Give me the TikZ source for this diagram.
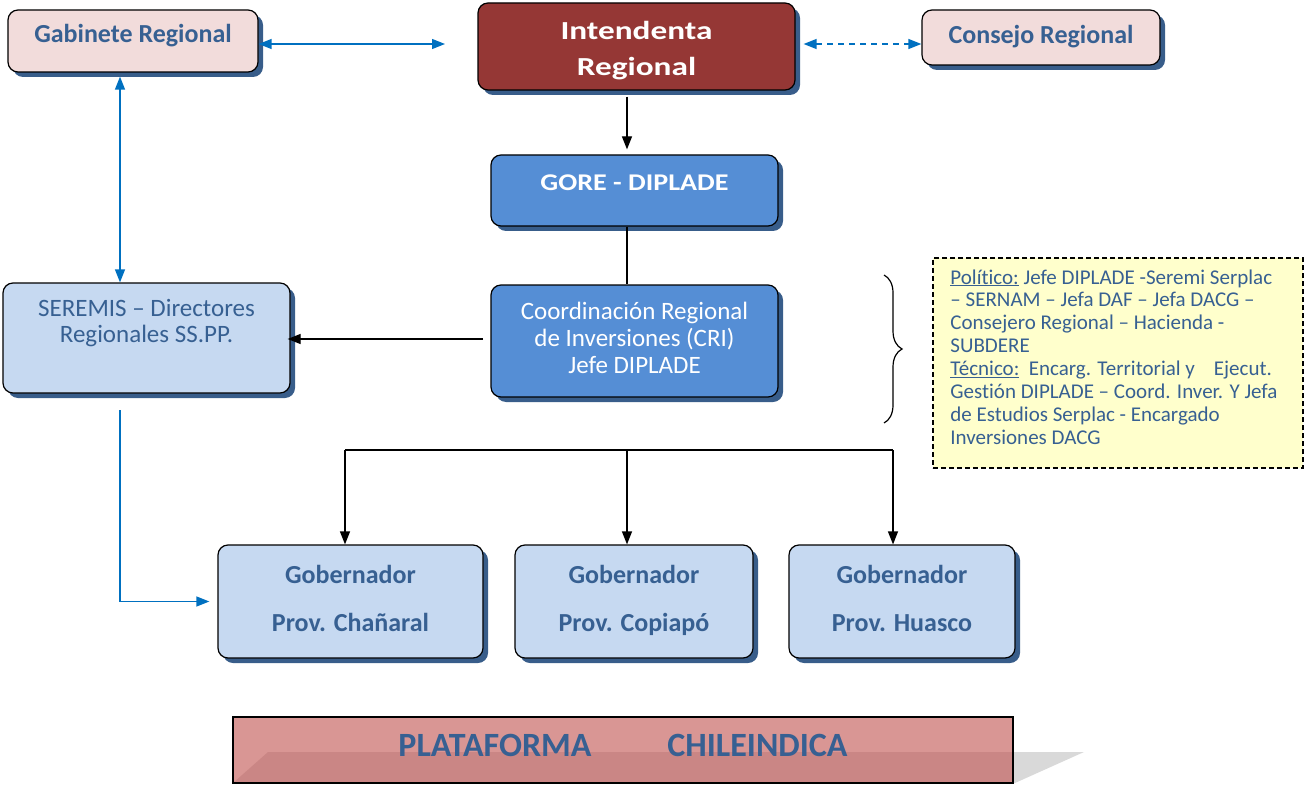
\documentclass[tikz,border=0pt]{standalone}
\usepackage{fontspec}
\setmainfont{Carlito}[Ligatures=NoCommon]
\usetikzlibrary{shadows,arrows.meta,decorations.pathreplacing}
\definecolor{pinkfill}{HTML}{F2DCDB}
\definecolor{darkred}{HTML}{953735}
\definecolor{midblue}{HTML}{558ED5}
\definecolor{lightblue}{HTML}{C6D9F1}
\definecolor{txtblue}{HTML}{376092}
\definecolor{shadowblue}{HTML}{385D8A}
\definecolor{arrowblue}{HTML}{0070C0}
\definecolor{yellowfill}{HTML}{FFFFCC}
\definecolor{platred}{HTML}{C0504D}
\definecolor{platgray}{HTML}{D9D9D9}
\tikzset{
  box/.style={draw=black, line width=1.2pt, rounded corners=10pt, inner sep=0pt,
    drop shadow={shadow xshift=5pt, shadow yshift=-5pt, fill=shadowblue, opacity=1}},
  bluearrow/.style={draw=arrowblue, line width=1.3pt, -{Triangle[length=13pt,width=10pt]}},
  bluedouble/.style={draw=arrowblue, line width=1.3pt, {Triangle[length=13pt,width=10pt]}-{Triangle[length=13pt,width=10pt]}},
  blackarrow/.style={draw=black, line width=1.2pt, -{Triangle[length=13pt,width=10pt]}},
  plainline/.style={draw=black, line width=1.2pt},
  govbox/.style={box, fill=lightblue, minimum height=113pt},
  govtext/.style={yshift=4pt, font=\fontsize{26}{48}\selectfont\bfseries, text=txtblue, align=center},
}
\begin{document}
\begin{tikzpicture}[x=1pt,y=-1pt]
\useasboundingbox (0,0) rectangle (1305,786);
% top row
\node[box, fill=pinkfill, minimum width=250pt, minimum height=62pt, font=\fontsize{26}{29}\selectfont\bfseries, text=txtblue,
  text height=18pt, text depth=14pt]
  (gab) at (133,41) {Gabinete Regional};
\node[box, fill=darkred, minimum width=317pt, minimum height=87pt,
  label={[yshift=-4pt, font=\fontsize{26}{36}\selectfont\bfseries, text=white, align=center]center:\scalebox{1.28}[1]{Intendenta}\\\scalebox{1.28}[1]{Regional}}]
  (int) at (636.5,46.5) {};
\node[box, fill=pinkfill, minimum width=238pt, minimum height=55pt, font=\fontsize{26}{29}\selectfont\bfseries, text=txtblue,
  text height=18pt, text depth=6pt]
  (con) at (1041,37.5) {Consejo Regional};
% GORE
\node[box, fill=midblue, minimum width=287pt, minimum height=71pt, font=\fontsize{24}{27}\selectfont\bfseries, text=white, text height=10pt, text depth=10pt]
  (gore) at (634.5,190.5) {\scalebox{1.17}[1]{GORE - DIPLADE}};
% CRI
\node[box, fill=midblue, minimum width=287pt, minimum height=112pt,
  label={[yshift=3pt, font=\fontsize{25}{27}\selectfont, text=white, align=center]center:Coordinación Regional\\de Inversiones (CRI)\\Jefe DIPLADE}]
  (cri) at (634.5,341) {};
% SEREMIS
\node[box, fill=lightblue, minimum width=287pt, minimum height=110pt, font=\fontsize{25}{26.5}\selectfont, text=txtblue, align=center]
  (ser) at (146.5,338) {SEREMIS -- Directores\\Regionales SS.PP.\\\strut};
% Governors
\node[govbox, minimum width=265pt, label={[govtext]center:Gobernador\strut\\Prov. Chañaral\strut}] (g1) at (350.5,601.5) {};
\node[govbox, minimum width=238pt, label={[govtext]center:Gobernador\strut\\Prov. Copiapó\strut}] (g2) at (634,601.5) {};
\node[govbox, minimum width=226pt, label={[govtext]center:Gobernador\strut\\Prov. Huasco\strut}] (g3) at (902,601.5) {};
% Yellow note
\node[draw=black, dash pattern=on 5pt off 3pt, line width=1.3pt, fill=yellowfill, minimum width=370pt, minimum height=210pt, inner sep=0pt,
  label={[yshift=6pt, xshift=-4pt, align=left, inner sep=0pt, font=\fontsize{21}{22.9}\selectfont, text=txtblue]center:\underline{Político:} Jefe DIPLADE -Seremi Serplac\\
-- SERNAM -- Jefa DAF -- Jefa DACG --\\
Consejero Regional -- Hacienda -\\
SUBDERE\\
\underline{Técnico:}\ \ Encarg. Territorial y\ \ \ \ Ejecut.\\
Gestión DIPLADE -- Coord. Inver. Y Jefa\\
de Estudios Serplac - Encargado\\
Inversiones DACG}]
  (note) at (1118,363) {};
% brace
\coordinate (brA) at (884,275);
\coordinate (brB) at (884,423);
\draw[line width=1.2pt, decorate, decoration={brace, amplitude=18pt}] (brA) -- (brB);
% Plataforma
\coordinate (pA) at (233,783);
\coordinate (pB) at (268,752);
\coordinate (pC) at (1084,752);
\coordinate (pD) at (1015,783);
\fill[platgray] (pA) -- (pB) -- (pC) -- (pD) -- cycle;
\node[draw=black, line width=2.2pt, fill=platred, fill opacity=0.6, text opacity=1, minimum width=780pt, minimum height=66pt,
  font=\fontsize{34}{36}\selectfont\bfseries, text=txtblue, inner sep=0pt, text height=22pt, text depth=10pt]
  (plat) at (623,750) {PLATAFORMA\hspace{76pt}CHILEINDICA};
% connectors
\coordinate (gabR) at (445,44);
\draw[bluedouble] (gab.east |- gabR) -- (gabR);
\draw[bluedouble, dash pattern=on 6pt off 5pt] ([xshift=8pt]int.east |- gabR) -- (con.west |- gabR);
\coordinate (cx) at (120,0);
\draw[bluedouble] ([yshift=-4pt]gab.south -| cx) -- (ser.north -| cx);
\coordinate (serB) at (120,410);
\draw[bluearrow, shorten >=8pt] (serB) |- (g1.west);
\coordinate (mx) at (627,0);
\draw[blackarrow, shorten <=6pt, shorten >=5pt] (int.south -| mx) -- (gore.north -| mx);
\draw[plainline] (gore.south -| mx) -- (cri.north -| mx);
\coordinate (criL) at (483,339);
\draw[blackarrow, shorten >=-3pt] (criL) -- (criL -| ser.east);
\coordinate (bus) at (627,450);
\coordinate (busL) at (345,450);
\coordinate (busR) at (893,450);
\draw[plainline] (busL) -- (busR);
\draw[blackarrow] (busL) -- (g1.north -| busL);
\draw[blackarrow] (bus) -- (g2.north -| bus);
\draw[blackarrow] (busR) -- (g3.north -| busR);
\end{tikzpicture}
\end{document}
